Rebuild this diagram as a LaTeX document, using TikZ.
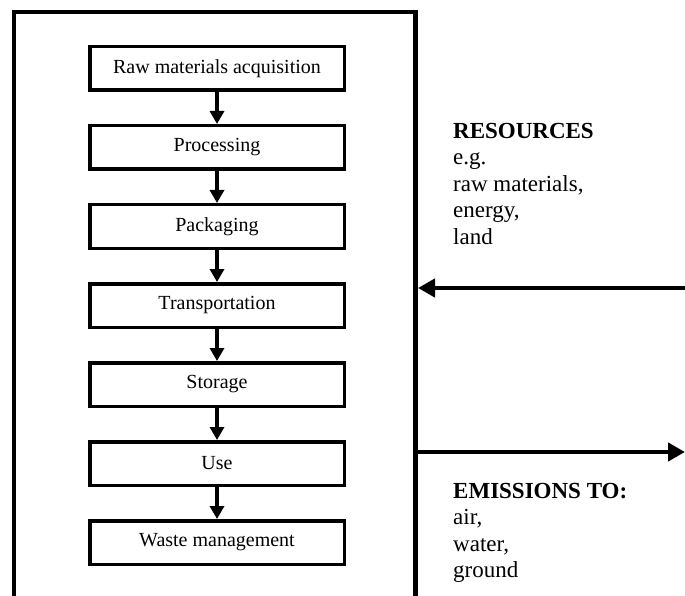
\documentclass[tikz,border=0pt]{standalone}
\usepackage{fontspec}
\setmainfont{Liberation Serif}
\usetikzlibrary{arrows.meta,positioning}

\begin{document}
\begin{tikzpicture}[x=1pt,y=-1pt,
  stage/.style={draw,line width=3.5pt,minimum width=254.5pt,minimum height=43.5pt,inner sep=0pt,font=\fontsize{20}{24}\selectfont},
  flow/.style={line width=3.5pt,-{Triangle[length=13pt,width=14pt]}},
  bigflow/.style={line width=4.5pt,-{Triangle[length=17pt,width=18pt]}},
  side/.style={anchor=north west,inner sep=0pt,align=left,font=\fontsize{23}{26.5}\selectfont}]
\useasboundingbox (0,0) rectangle (685,596);
\clip (0,0) rectangle (685,596);
% system boundary, open at the bottom
\draw[line width=4.5pt] (14,615) -- (14,12) -- (415.5,12) -- (415.5,615);
\node[stage] (raw) at (217,68.5) {Raw materials acquisition};
\node[stage,below=32pt of raw] (proc) {Processing};
\node[stage,below=32pt of proc] (pack) {Packaging};
\node[stage,below=32pt of pack] (trans) {Transportation};
\node[stage,below=32pt of trans] (store) {Storage};
\node[stage,below=32pt of store] (use) {Use};
\node[stage,below=32pt of use] (waste) {Waste management};
\foreach \a/\b in {raw/proc,proc/pack,pack/trans,trans/store,store/use,use/waste}
  \draw[flow] (\a) -- (\b);
% inputs and outputs
\coordinate (resfrom) at (695,288);
\coordinate (resto) at (418,288);
\coordinate (emfrom) at (415.5,452);
\coordinate (emto) at (685,452);
\draw[bigflow] (resfrom) -- (resto);
\draw[bigflow] (emfrom) -- (emto);
\node[side] (res) at (453,123) {\textbf{RESOURCES}\\e.g.\\raw materials,\\energy,\\land};
\node[side] (emis) at (453,483) {\textbf{EMISSIONS TO:}\\air,\\water,\\ground};
\end{tikzpicture}
\end{document}
